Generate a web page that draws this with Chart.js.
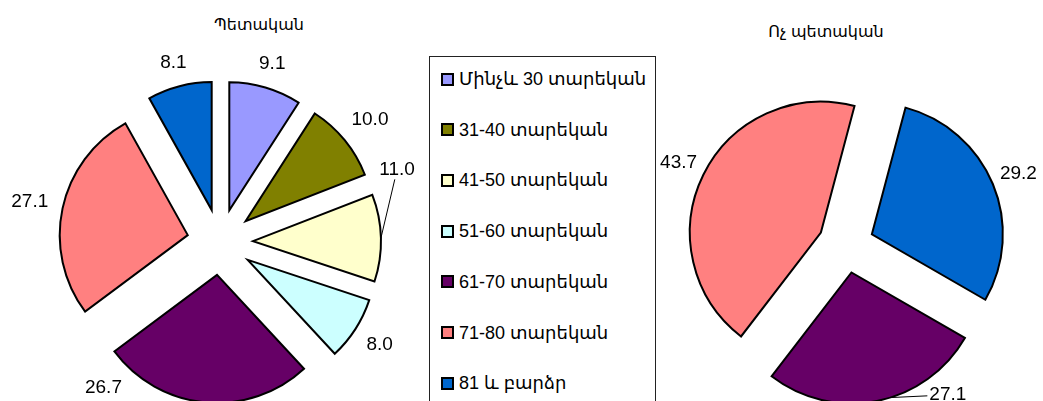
<!DOCTYPE html>
<html lang="hy">
<head>
    <meta charset="UTF-8">
    <title>Տարիքային կառուցվածք</title>
    <script src="https://cdn.jsdelivr.net/npm/chart.js"></script>
    <style>
        body {
            margin: 0;
            width: 1043px;
            height: 401px;
            overflow: hidden;
            background: #fff;
            position: relative;
            font-family: "Liberation Sans", "DejaVu Sans", sans-serif;
        }
        .pie-box {
            position: absolute;
            top: 0;
            height: 401px;
        }
        #stateBox { left: 0; width: 420px; }
        #privateBox { left: 660px; width: 383px; }
        .pie-title {
            position: absolute;
            font-size: 16px;
            color: #000;
            transform: translate(-50%, -50%);
            white-space: nowrap;
        }
        .legend-box {
            position: absolute;
            left: 429px;
            top: 56px;
            width: 225px;
            height: 400px;
            border: 1px solid #222;
        }
        .legend-item {
            position: absolute;
            left: 11px;
            height: 20px;
            line-height: 20px;
            font-size: 18px;
            white-space: nowrap;
            display: flex;
            align-items: center;
        }
        .legend-item span.mark {
            display: inline-block;
            width: 9px;
            height: 9px;
            border: 2px solid #000;
            margin-right: 5px;
        }
    </style>
</head>
<body>
    <div class="pie-title" style="left:259px; top:24px;">Պետական</div>
    <div class="pie-title" style="left:826px; top:31px;">Ոչ պետական</div>

    <div class="pie-box" id="stateBox"><canvas id="stateChart"></canvas></div>
    <div class="pie-box" id="privateBox"><canvas id="privateChart"></canvas></div>

    <div class="legend-box" id="legend"></div>

    <script>
    // age groups and shares, %
    const ageGroups = ['Մինչև 30 տարեկան', '31-40 տարեկան', '41-50 տարեկան', '51-60 տարեկան',
                       '61-70 տարեկան', '71-80 տարեկան', '81 և բարձր'];
    const groupColors = ['#9999FF', '#808000', '#FFFFCC', '#CCFFFF', '#660066', '#FF8080', '#0066CC'];
    const stateValues = [9.1, 10.0, 11.0, 8.0, 26.7, 27.1, 8.1];

    const privateGroups = ['61-70 տարեկան', '71-80 տարեկան', '81 և բարձր'];
    const privateColors = ['#660066', '#FF8080', '#0066CC'];
    const privateValues = [27.1, 43.7, 29.2];

    const labelFont = '19px "Liberation Sans", "DejaVu Sans", sans-serif';

    // moves slices outward and writes the value next to each slice
    const sliceLabels = {
        id: 'sliceLabels',
        afterDatasetUpdate(chart, args, opts) {
            const d = opts.explode || 0;
            args.meta.data.forEach(arc => {
                const mid = (arc.startAngle + arc.endAngle) / 2;
                arc.x += Math.cos(mid) * d;
                arc.y += Math.sin(mid) * d;
            });
        },
        afterDatasetsDraw(chart, args, opts) {
            const ctx = chart.ctx;
            const meta = chart.getDatasetMeta(0);
            const values = chart.data.datasets[0].data;
            const W = chart.width, H = chart.height, m = opts.margin;
            const deg = Math.PI / 180;
            ctx.save();
            ctx.font = labelFont;
            ctx.fillStyle = '#000';
            ctx.strokeStyle = '#000';
            ctx.lineWidth = 1;
            ctx.textAlign = 'center';
            ctx.textBaseline = 'middle';
            meta.data.forEach((arc, i) => {
                const text = values[i].toFixed(1);
                const w = ctx.measureText(text).width / 2;
                const h = 19 * 0.36;
                let mid = (arc.startAngle + arc.endAngle) / 2;
                mid = Math.atan2(Math.sin(mid), Math.cos(mid));
                const place = a => {
                    const dist = arc.outerRadius + opts.gap + w * Math.abs(Math.cos(a)) + h * Math.abs(Math.sin(a));
                    return { x: arc.x + Math.cos(a) * dist, y: arc.y + Math.sin(a) * dist };
                };
                const fits = q => q.y + h <= H - m && q.y - h >= m && q.x + w <= W - m && q.x - w >= m;
                let a = mid, p = place(a), step = 0;
                if (!fits(p)) {
                    if (p.y + h > H - m) step = mid > Math.PI / 2 ? 1 : -1;
                    else if (p.y - h < m) step = mid > -Math.PI / 2 ? 1 : -1;
                    else if (p.x + w > W - m) step = mid > 0 ? 1 : -1;
                    else step = mid > 0 ? -1 : 1;
                    for (let k = 0; k < 150 && !fits(p); k++) {
                        a += step * deg;
                        p = place(a);
                    }
                }
                // leader line for moved labels, from the visible part of the slice edge
                if (Math.abs(a - mid) > 0.12) {
                    let s = mid, ex, ey, k = 0;
                    do {
                        ex = arc.x + Math.cos(s) * arc.outerRadius;
                        ey = arc.y + Math.sin(s) * arc.outerRadius;
                        s += step * deg;
                        k++;
                    } while (ey > H - 3 && k < 30);
                    if (k <= 9) {
                        const vx = ex - p.x, vy = ey - p.y;
                        const t = Math.min(Math.abs(vx) > 0 ? (w + 2) / Math.abs(vx) : 9,
                                           Math.abs(vy) > 0 ? (h + 3) / Math.abs(vy) : 9);
                        ctx.beginPath();
                        ctx.moveTo(ex, ey);
                        ctx.lineTo(p.x + vx * t, p.y + vy * t);
                        ctx.stroke();
                    }
                }
                ctx.fillText(text, p.x, p.y);
            });
            ctx.restore();
        }
    };

    function makePie(id, labels, values, colors, radius, rotation, padding, explode, gap, margin) {
        return new Chart(document.getElementById(id), {
            type: 'pie',
            data: {
                labels: labels,
                datasets: [{
                    data: values,
                    backgroundColor: colors,
                    borderColor: '#000',
                    borderWidth: 2,
                    borderJoinStyle: 'miter',
                    radius: radius,
                    rotation: rotation
                }]
            },
            options: {
                responsive: true,
                maintainAspectRatio: false,
                animation: false,
                layout: { padding: padding },
                plugins: {
                    legend: { display: false },
                    tooltip: { enabled: false },
                    sliceLabels: { explode: explode, gap: gap, margin: margin }
                }
            },
            plugins: [sliceLabels]
        });
    }

    makePie('stateChart', ageGroups, stateValues, groupColors, 128, 0, { left: 20, top: 83 }, 33, 14, 5);
    makePie('privateChart', privateGroups, privateValues, privateColors, 131, 120, { right: 11, top: 89 }, 28, 8, -1);

    // legend
    const legend = document.getElementById('legend');
    ageGroups.forEach((name, i) => {
        const item = document.createElement('div');
        item.className = 'legend-item';
        item.style.top = (12 + i * 50.7) + 'px';
        item.innerHTML = '<span class="mark" style="background:' + groupColors[i] + '"></span>' + name;
        legend.appendChild(item);
    });
    </script>
</body>
</html>
